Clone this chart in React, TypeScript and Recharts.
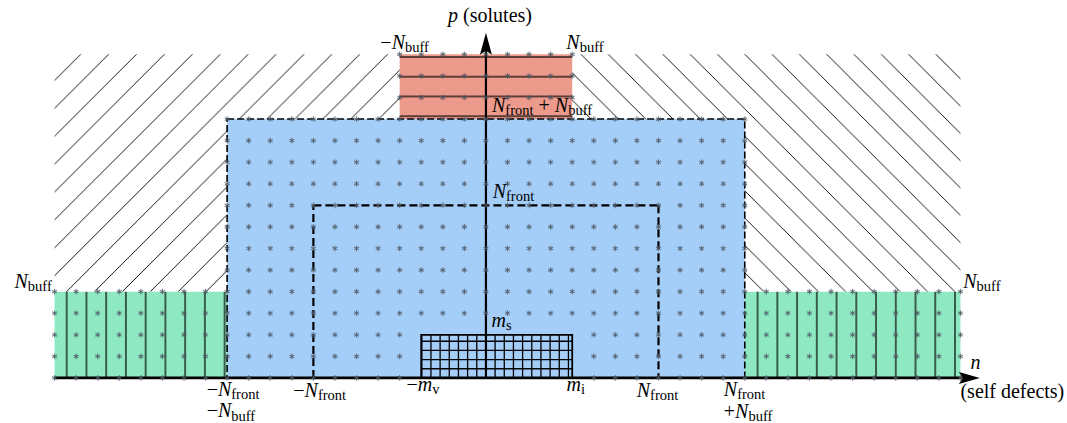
import React from "react";
import {
  ComposedChart,
  Customized,
  ReferenceArea,
  ReferenceDot,
  ReferenceLine,
  Scatter,
  XAxis,
  YAxis
} from "recharts";

const width = 1067;
const height = 423;

// plotting window in lattice units (one unit = one site)
const xDomain = [-22.53, 26.94];
const yDomain = [-2.09, 17.52];

// boxes as [n1, n2, p1, p2]
const frontBox = [-12, 12, 0, 12];
const buffLeft = [-20, -12, 0, 4];
const buffRight = [12, 22, 0, 4];
const soluteBuff = [-4, 4, 12, 15];
const innerFront = [-8, 8, 0, 8];
const meshBox = [-3, 4, 0, 2];
const hatchLeft = [-20, 0, 4, 15];
const hatchRight = [0, 22, 4, 15];
const meshStep = 0.425;

const nAxis = [-20, 22.9];
const pAxis = [0, 16];

const blue = "#a4cdf7";
const green = "#8ee9c2";
const red = "#ec9a8c";
const ink = "#000";
const star = "#4c5562";
const serif = "'Liberation Serif', 'DejaVu Serif', serif";

type Piece = [string, "i" | "r" | "s"];
type Note = { x: number; y: number; anchor: "start" | "middle" | "end"; pieces: Piece[] };

const notes: Note[] = [
  { x: 0.19, y: 16.5, anchor: "middle", pieces: [["p", "i"], [" (solutes)", "r"]] },
  { x: -3.77, y: 15.25, anchor: "middle", pieces: [["\u2212", "r"], ["N", "i"], ["buff", "s"]] },
  { x: 4.59, y: 15.25, anchor: "middle", pieces: [["N", "i"], ["buff", "s"]] },
  { x: 0.28, y: 12.33, anchor: "start", pieces: [["N", "i"], ["front", "s"], [" + ", "r"], ["N", "i"], ["buff", "s"]] },
  { x: 0.31, y: 8.33, anchor: "start", pieces: [["N", "i"], ["front", "s"]] },
  { x: -20.13, y: 4.16, anchor: "end", pieces: [["N", "i"], ["buff", "s"]] },
  { x: 22.13, y: 4.16, anchor: "start", pieces: [["N", "i"], ["buff", "s"]] },
  { x: 0.26, y: 2.38, anchor: "start", pieces: [["m", "i"], ["s", "s"]] },
  { x: -3.68, y: -0.59, anchor: "start", pieces: [["\u2212", "r"], ["m", "i"], ["v", "s"]] },
  { x: 3.74, y: -0.59, anchor: "start", pieces: [["m", "i"], ["i", "s"]] },
  { x: -12.95, y: -0.85, anchor: "start", pieces: [["\u2212", "r"], ["N", "i"], ["front", "s"]] },
  { x: -12.95, y: -1.83, anchor: "start", pieces: [["\u2212", "r"], ["N", "i"], ["buff", "s"]] },
  { x: -8.93, y: -0.88, anchor: "start", pieces: [["\u2212", "r"], ["N", "i"], ["front", "s"]] },
  { x: 6.99, y: -0.88, anchor: "start", pieces: [["N", "i"], ["front", "s"]] },
  { x: 11.03, y: -0.83, anchor: "start", pieces: [["N", "i"], ["front", "s"]] },
  { x: 11.03, y: -1.85, anchor: "start", pieces: [["+", "r"], ["N", "i"], ["buff", "s"]] },
  { x: 22.47, y: 0.42, anchor: "start", pieces: [["n", "i"]] },
  { x: 22.0, y: -0.94, anchor: "start", pieces: [["(self defects)", "r"]] }
];

// lattice sites of every filled box, minus the ones under the mesh
function sites() {
  const seen = new Set<string>();
  const out: { x: number; y: number }[] = [];
  for (const [x1, x2, y1, y2] of [frontBox, buffLeft, buffRight, soluteBuff]) {
    for (let x = x1; x <= x2; x++) {
      for (let y = y1; y <= y2; y++) {
        const key = `${x},${y}`;
        const inMesh = x >= meshBox[0] && x <= meshBox[1] && y >= meshBox[2] && y <= meshBox[3];
        if (seen.has(key) || inMesh) continue;
        seen.add(key);
        out.push({ x, y });
      }
    }
  }
  return out;
}

const dots = sites();

const meshCols: number[] = [];
for (let k = Math.ceil(meshBox[0] / meshStep); k * meshStep < meshBox[1]; k++) meshCols.push(k * meshStep);
const meshRows: number[] = [];
for (let k = 1; k * meshStep < meshBox[3]; k++) meshRows.push(k * meshStep);

function Patterns() {
  return (
    <defs>
      <pattern id="hatchNE" patternUnits="userSpaceOnUse" x={23.4} y={0} width={27.9} height={27.9}>
        <path d="M0,27.9 L27.9,0 M-2,2 L2,-2 M25.9,29.9 L29.9,25.9" stroke={ink} strokeWidth={0.9} />
      </pattern>
      <pattern id="hatchNW" patternUnits="userSpaceOnUse" x={8} y={0} width={27.3} height={27.3}>
        <path d="M0,0 L27.3,27.3 M25.3,-2 L29.3,2 M-2,25.3 L2,29.3" stroke={ink} strokeWidth={0.9} />
      </pattern>
      <pattern id="vlines" patternUnits="userSpaceOnUse" x={-2.39} y={0} width={19.74} height={20}>
        <rect x={0} y={0} width={19.74} height={20} fill={green} />
        <line x1={9.87} y1={0} x2={9.87} y2={20} stroke={ink} strokeWidth={1.2} />
      </pattern>
      <pattern id="hlines" patternUnits="userSpaceOnUse" x={0} y={7.63} width={20} height={19.74}>
        <rect x={0} y={0} width={20} height={19.74} fill={red} />
        <line x1={0} y1={9.87} x2={20} y2={9.87} stroke={ink} strokeWidth={1.2} />
      </pattern>
    </defs>
  );
}

function Asterisk(props: any) {
  const { cx, cy } = props;
  const r = 2.8;
  const a = r * Math.cos(Math.PI / 6);
  const b = r * Math.sin(Math.PI / 6);
  return (
    <g stroke={star} strokeOpacity={0.75} strokeWidth={1.1}>
      <line x1={cx} y1={cy - r} x2={cx} y2={cy + r} />
      <line x1={cx - a} y1={cy - b} x2={cx + a} y2={cy + b} />
      <line x1={cx - a} y1={cy + b} x2={cx + a} y2={cy - b} />
    </g>
  );
}

function MathText({ cx, cy, note }: { cx: number; cy: number; note: Note }) {
  let shift = 0;
  return (
    <text
      x={cx}
      y={cy}
      textAnchor={note.anchor}
      fontFamily={serif}
      fontSize={20}
      fill={ink}
      style={{ whiteSpace: "pre", fontFamily: serif }}
    >
      {note.pieces.map(([t, kind], i) => {
        const target = kind === "s" ? 3.2 : 0;
        const dy = target - shift;
        shift = target;
        return (
          <tspan key={i} dy={dy} fontStyle={kind === "i" ? "italic" : "normal"} fontSize={kind === "s" ? 14.5 : 20}>
            {t}
          </tspan>
        );
      })}
    </text>
  );
}

function RightArrow(props: any) {
  const { cx, cy } = props;
  return <polygon points={`${cx},${cy} ${cx - 21},${cy - 6} ${cx - 17},${cy} ${cx - 21},${cy + 6}`} fill={ink} />;
}

function UpArrow(props: any) {
  const { cx, cy } = props;
  return <polygon points={`${cx},${cy} ${cx - 6},${cy + 22} ${cx},${cy + 18} ${cx + 6},${cy + 22}`} fill={ink} />;
}

export default function App() {
  return (
    <div style={{ position: "absolute", left: 0, top: 0, width, height, background: "#fff" }}>
      <ComposedChart width={width} height={height} margin={{ top: 0, right: 0, bottom: 0, left: 0 }}>
        <Customized component={Patterns} />
        <XAxis type="number" dataKey="x" domain={xDomain} allowDataOverflow hide />
        <YAxis type="number" dataKey="y" domain={yDomain} allowDataOverflow hide />

        <ReferenceArea x1={hatchLeft[0]} x2={hatchLeft[1]} y1={hatchLeft[2]} y2={hatchLeft[3]} fill="url(#hatchNE)" fillOpacity={1} stroke="none" />
        <ReferenceArea x1={hatchRight[0]} x2={hatchRight[1]} y1={hatchRight[2]} y2={hatchRight[3]} fill="url(#hatchNW)" fillOpacity={1} stroke="none" />

        <ReferenceArea x1={buffLeft[0]} x2={buffLeft[1]} y1={buffLeft[2]} y2={buffLeft[3]} fill="url(#vlines)" fillOpacity={1} stroke="none" />
        <ReferenceArea x1={buffRight[0]} x2={buffRight[1]} y1={buffRight[2]} y2={buffRight[3]} fill="url(#vlines)" fillOpacity={1} stroke="none" />
        <ReferenceArea x1={soluteBuff[0]} x2={soluteBuff[1]} y1={soluteBuff[2]} y2={soluteBuff[3]} fill="url(#hlines)" fillOpacity={1} stroke="none" />
        <ReferenceArea
          x1={frontBox[0]}
          x2={frontBox[1]}
          y1={frontBox[2]}
          y2={frontBox[3]}
          fill={blue}
          fillOpacity={1}
          stroke={ink}
          strokeWidth={1.6}
          strokeDasharray="7 3"
        />

        <Scatter data={dots} dataKey="y" shape={Asterisk} isAnimationActive={false} />

        <ReferenceArea x1={meshBox[0]} x2={meshBox[1]} y1={meshBox[2]} y2={meshBox[3]} fill={blue} fillOpacity={1} stroke={ink} strokeWidth={1.8} />
        {meshCols.map((x) => (
          <ReferenceLine key={`c${x}`} segment={[{ x, y: meshBox[2] }, { x, y: meshBox[3] }]} stroke={ink} strokeWidth={1.3} />
        ))}
        {meshRows.map((y) => (
          <ReferenceLine key={`r${y}`} segment={[{ x: meshBox[0], y }, { x: meshBox[1], y }]} stroke={ink} strokeWidth={1.3} />
        ))}

        <ReferenceLine segment={[{ x: innerFront[0], y: innerFront[2] }, { x: innerFront[0], y: innerFront[3] }]} stroke={ink} strokeWidth={2.2} strokeDasharray="8 4" />
        <ReferenceLine segment={[{ x: innerFront[0], y: innerFront[3] }, { x: innerFront[1], y: innerFront[3] }]} stroke={ink} strokeWidth={2.2} strokeDasharray="8 4" />
        <ReferenceLine segment={[{ x: innerFront[1], y: innerFront[3] }, { x: innerFront[1], y: innerFront[2] }]} stroke={ink} strokeWidth={2.2} strokeDasharray="8 4" />

        <ReferenceLine segment={[{ x: nAxis[0], y: 0 }, { x: nAxis[1] - 0.8, y: 0 }]} stroke={ink} strokeWidth={2.6} />
        <ReferenceLine segment={[{ x: 0, y: pAxis[0] }, { x: 0, y: pAxis[1] - 0.8 }]} stroke={ink} strokeWidth={2.2} />
        <ReferenceDot x={nAxis[1]} y={0} shape={RightArrow} ifOverflow="visible" />
        <ReferenceDot x={0} y={pAxis[1]} shape={UpArrow} ifOverflow="visible" />

        {notes.map((note, i) => (
          <ReferenceDot
            key={i}
            x={note.x}
            y={note.y}
            ifOverflow="visible"
            shape={(p: any) => <MathText cx={p.cx} cy={p.cy} note={note} />}
          />
        ))}
      </ComposedChart>
    </div>
  );
}
